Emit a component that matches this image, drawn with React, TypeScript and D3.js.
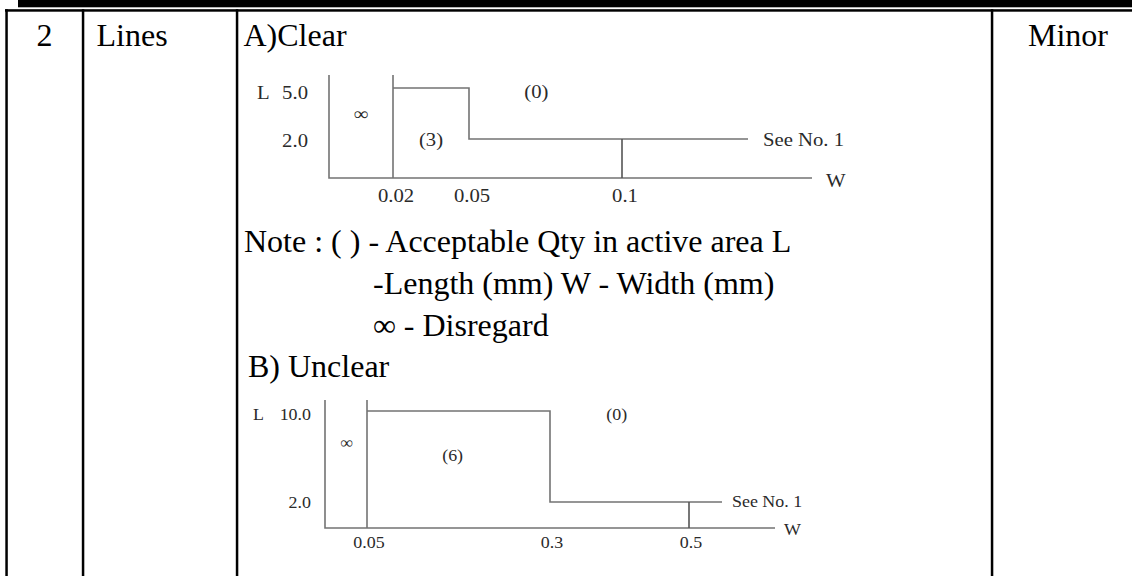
import * as d3 from 'd3';

// A) Clear
const clearWidths = [0, 0.02, 0.05, 0.1];
const clearWidthLabels = ['0.02', '0.05', '0.1'];
const clearLengths = [0, 2.0, 5.0];
const clearLengthLabels = ['2.0', '5.0'];
const clearStepWidths = [0.02, 0.05];
const clearStepLengths = [5.0, 2.0];
const clearCutWidth = 0.1;
const clearRegionText = ['∞', '(3)', '(0)'];
const clearRegionW = [0.01, 0.035, 0.072];
const clearRegionL = [3.5, 2.0, 4.8];

// B) Unclear
const unclearWidths = [0, 0.05, 0.3, 0.5];
const unclearWidthLabels = ['0.05', '0.3', '0.5'];
const unclearLengths = [0, 2.0, 10.0];
const unclearLengthLabels = ['2.0', '10.0'];
const unclearStepWidths = [0.05, 0.3];
const unclearStepLengths = [10.0, 2.0];
const unclearCutWidth = 0.5;
const unclearRegionText = ['∞', '(6)', '(0)'];
const unclearRegionW = [0.026, 0.167, 0.396];
const unclearRegionL = [7.2, 6.1, 9.65];

const noteLines = [
  'Note : ( ) - Acceptable Qty in active area L',
  '-Length (mm) W - Width (mm)',
  '∞ - Disregard',
];

const SERIF = '"Liberation Serif", "Times New Roman", serif';
const LINE = '#737373';
const INK = '#2a2a2a';

interface StepChartProps {
  ox: number;
  oy: number;
  widths: number[];
  widthLabels: string[];
  lengths: number[];
  lengthLabels: string[];
  stepWidths: number[];
  stepLengths: number[];
  cutWidth: number;
  regionText: string[];
  regionW: number[];
  regionL: number[];
  xPx: number[];
  yPx: number[];
  axisW: number;
  axisH: number;
  seeLen: number;
  font: number;
  stretch: number;
  yLabelGap: number;
  xLabelDy: number;
  xLabelShift: number;
  seeGap: number;
}

const Label = ({ x, y, text, font, stretch, anchor = 'middle' }: {
  x: number; y: number; text: string; font: number; stretch: number; anchor?: string;
}) => (
  <g transform={`translate(${x},${y}) scale(${stretch},1)`}>
    <text textAnchor={anchor} dominantBaseline="central" fontSize={font} fill={INK}>{text}</text>
  </g>
);

const StepChart = (p: StepChartProps) => {
  const x = d3.scaleLinear().domain(p.widths).range(p.xPx);
  const y = d3.scaleLinear().domain(p.lengths).range(p.yPx.map(v => -v));
  const line = d3.line<[number, number]>();

  const [w0, w1] = p.stepWidths;
  const [l0, l1] = p.stepLengths;
  const stepPts: [number, number][] = [
    [x(w0), y(l0)],
    [x(w1), y(l0)],
    [x(w1), y(l1)],
    [x(p.cutWidth) + p.seeLen, y(l1)],
  ];
  const topL = y(p.lengths[p.lengths.length - 1]);

  return (
    <g transform={`translate(${p.ox},${p.oy})`} fontFamily={SERIF}>
      {/* axes */}
      <path d={line([[0, -p.axisH], [0, 0], [p.axisW, 0]]) ?? ''} fill="none" stroke={LINE} strokeWidth={1.6} />
      {/* infinity boundary */}
      <path d={line([[x(w0), -p.axisH], [x(w0), 0]]) ?? ''} stroke={LINE} strokeWidth={1.6} />
      {/* step limit */}
      <path d={line(stepPts) ?? ''} fill="none" stroke={LINE} strokeWidth={1.6} />
      <path d={line([[x(p.cutWidth), y(l1)], [x(p.cutWidth), 0]]) ?? ''} stroke="#555" strokeWidth={1.6} />

      {/* x tick labels */}
      {p.widthLabels.map((t, i) => (
        <Label key={t} x={x(p.widths[i + 1]) + p.xLabelShift} y={p.xLabelDy} text={t} font={p.font} stretch={p.stretch} />
      ))}
      {/* y tick labels */}
      {p.lengthLabels.map((t, i) => (
        <Label key={t} x={-p.yLabelGap} y={y(p.lengths[i + 1]) + (i === p.lengthLabels.length - 1 ? 4 : 1)} text={t} font={p.font} stretch={p.stretch} anchor="end" />
      ))}
      <Label x={-72} y={topL + 4} text="L" font={p.font} stretch={p.stretch} anchor="start" />
      <Label x={p.axisW + p.seeGap - 1} y={2} text="W" font={p.font} stretch={p.stretch} anchor="start" />
      <Label x={x(p.cutWidth) + p.seeLen + p.seeGap} y={y(l1)} text="See No. 1" font={p.font} stretch={p.stretch} anchor="start" />

      {/* region quantities */}
      {p.regionText.map((t, i) => (
        <Label key={i} x={x(p.regionW[i])} y={y(p.regionL[i])} text={t} font={p.font} stretch={p.stretch} />
      ))}
    </g>
  );
};

const App = () => {
  const W = 1132;
  const H = 576;
  const colX = [6.5, 83, 237, 992];
  return (
    <svg width={W} height={H} style={{ position: 'absolute', left: 0, top: 0, background: '#fff' }} fontFamily={SERIF}>
      <rect width={W} height={H} fill="#fff" />
      {/* table rules */}
      <rect x={18} y={0} width={W - 18} height={7.3} fill="#000" />
      <rect x={5} y={9.2} width={W - 5} height={2.5} fill="#000" />
      {colX.map(cx => (
        <rect key={cx} x={cx - 1.2} y={9.2} width={2.5} height={H - 9} fill="#000" />
      ))}

      {/* row text */}
      <g fontSize={32} fill="#000">
        <text x={36.5} y={46}>2</text>
        <text x={96.5} y={46}>Lines</text>
        <text x={243.5} y={46}>A)Clear</text>
        <text x={1028} y={46}>Minor</text>
        <text x={244} y={252}>{noteLines[0]}</text>
        <text x={373} y={294}>{noteLines[1]}</text>
        <text x={373} y={336}>{noteLines[2]}</text>
        <text x={248} y={377}>B) Unclear</text>
      </g>

      <StepChart
        ox={329} oy={178}
        widths={clearWidths} widthLabels={clearWidthLabels}
        lengths={clearLengths} lengthLabels={clearLengthLabels}
        stepWidths={clearStepWidths} stepLengths={clearStepLengths}
        cutWidth={clearCutWidth}
        regionText={clearRegionText} regionW={clearRegionW} regionL={clearRegionL}
        xPx={[0, 64, 140, 293]} yPx={[0, 39, 90]}
        axisW={483} axisH={103} seeLen={126}
        font={18.5} stretch={1.12} yLabelGap={21} xLabelDy={17} xLabelShift={3} seeGap={15}
      />
      <StepChart
        ox={325} oy={528}
        widths={unclearWidths} widthLabels={unclearWidthLabels}
        lengths={unclearLengths} lengthLabels={unclearLengthLabels}
        stepWidths={unclearStepWidths} stepLengths={unclearStepLengths}
        cutWidth={unclearCutWidth}
        regionText={unclearRegionText} regionW={unclearRegionW} regionL={unclearRegionL}
        xPx={[0, 42, 225, 364]} yPx={[0, 26, 117]}
        axisW={450} axisH={128} seeLen={33}
        font={16} stretch={1.12} yLabelGap={14} xLabelDy={15} xLabelShift={2} seeGap={10}
      />
    </svg>
  );
};

export default App;
